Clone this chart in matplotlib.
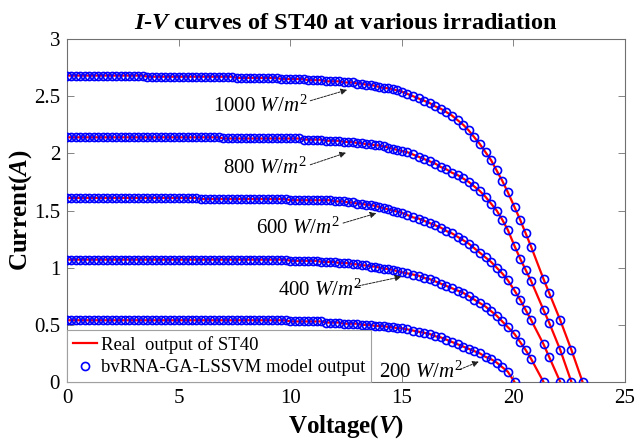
import matplotlib
matplotlib.use('Agg')
import matplotlib.pyplot as plt
from matplotlib.ticker import FuncFormatter

# ---------------- data ----------------
voltage = [
    0.0, 0.2, 0.4, 0.6, 0.8, 1.0, 1.2, 1.4, 1.6, 1.8,
    2.0, 2.2, 2.4, 2.6, 2.8, 3.0, 3.2, 3.4, 3.6, 3.8,
    4.0, 4.2, 4.4, 4.6, 4.8, 5.0, 5.2, 5.4, 5.6, 5.8,
    6.0, 6.2, 6.4, 6.6, 6.8, 7.0, 7.2, 7.4, 7.6, 7.8,
    8.0, 8.2, 8.4, 8.6, 8.8, 9.0, 9.2, 9.4, 9.6, 9.8,
    10.0, 10.2, 10.4, 10.6, 10.8, 11.0, 11.2, 11.4, 11.6, 11.8,
    12.0, 12.2, 12.4, 12.6, 12.8, 13.0, 13.2, 13.4, 13.6, 13.8,
    14.0, 14.2, 14.4, 14.6, 14.8, 15.0,
    15.25, 15.5, 15.75, 16.0, 16.25, 16.5, 16.75, 17.0, 17.25, 17.5,
    17.75, 18.0, 18.25, 18.5, 18.75, 19.0, 19.25, 19.5, 19.75,
    20.05, 20.3, 20.55, 20.8, 21.35, 21.6, 22.1, 22.6, 23.1,
]

current_1000 = [
    2.68, 2.68, 2.68, 2.68, 2.68, 2.68, 2.68, 2.68, 2.68, 2.68,
    2.68, 2.68, 2.68, 2.68, 2.68, 2.68, 2.68, 2.68, 2.67, 2.67,
    2.67, 2.67, 2.67, 2.67, 2.67, 2.67, 2.67, 2.67, 2.67, 2.67,
    2.67, 2.67, 2.67, 2.67, 2.67, 2.67, 2.67, 2.67, 2.66, 2.66,
    2.66, 2.66, 2.66, 2.66, 2.66, 2.66, 2.66, 2.66, 2.65, 2.65,
    2.65, 2.65, 2.65, 2.65, 2.64, 2.64, 2.64, 2.64, 2.63, 2.63,
    2.63, 2.63, 2.62, 2.62, 2.62, 2.61, 2.61, 2.60, 2.60, 2.59,
    2.58, 2.57, 2.57, 2.56, 2.55, 2.54,
    2.52, 2.50, 2.48, 2.46, 2.44, 2.41, 2.39, 2.36, 2.33, 2.29,
    2.25, 2.20, 2.14, 2.08, 2.01, 1.94, 1.85, 1.76, 1.66,
    1.53, 1.42, 1.30, 1.18, 0.90, 0.78, 0.54, 0.28, 0.00,
]

current_800 = [
    2.14, 2.14, 2.14, 2.14, 2.14, 2.14, 2.14, 2.14, 2.14, 2.14,
    2.14, 2.14, 2.14, 2.14, 2.14, 2.14, 2.14, 2.14, 2.14, 2.14,
    2.14, 2.14, 2.14, 2.14, 2.14, 2.14, 2.14, 2.14, 2.14, 2.14,
    2.14, 2.14, 2.14, 2.14, 2.14, 2.13, 2.13, 2.13, 2.13, 2.13,
    2.13, 2.13, 2.13, 2.13, 2.13, 2.13, 2.13, 2.13, 2.13, 2.13,
    2.13, 2.13, 2.13, 2.12, 2.12, 2.12, 2.12, 2.12, 2.11, 2.11,
    2.11, 2.11, 2.10, 2.10, 2.10, 2.09, 2.09, 2.08, 2.08, 2.07,
    2.07, 2.06, 2.05, 2.04, 2.03, 2.02,
    2.01, 1.99, 1.97, 1.95, 1.93, 1.91, 1.88, 1.86, 1.83, 1.81,
    1.78, 1.75, 1.71, 1.67, 1.62, 1.56, 1.50, 1.42, 1.33,
    1.19, 1.08, 0.98, 0.88, 0.63, 0.52, 0.28, 0.00,
]

current_600 = [
    1.61, 1.61, 1.61, 1.61, 1.61, 1.61, 1.61, 1.61, 1.61, 1.61,
    1.61, 1.61, 1.61, 1.61, 1.61, 1.61, 1.61, 1.61, 1.61, 1.61,
    1.61, 1.61, 1.61, 1.61, 1.61, 1.61, 1.61, 1.61, 1.61, 1.61,
    1.60, 1.60, 1.60, 1.60, 1.60, 1.60, 1.60, 1.60, 1.60, 1.60,
    1.60, 1.60, 1.60, 1.60, 1.60, 1.60, 1.60, 1.60, 1.60, 1.60,
    1.59, 1.59, 1.59, 1.59, 1.59, 1.59, 1.59, 1.59, 1.59, 1.59,
    1.58, 1.58, 1.58, 1.57, 1.57, 1.56, 1.56, 1.55, 1.55, 1.54,
    1.53, 1.52, 1.51, 1.50, 1.49, 1.48,
    1.46, 1.44, 1.43, 1.41, 1.39, 1.37, 1.35, 1.32, 1.30, 1.27,
    1.24, 1.21, 1.17, 1.13, 1.09, 1.05, 1.00, 0.95, 0.89,
    0.80, 0.72, 0.63, 0.54, 0.33, 0.22, 0.00,
]

current_400 = [
    1.07, 1.07, 1.07, 1.07, 1.07, 1.07, 1.07, 1.07, 1.07, 1.07,
    1.07, 1.07, 1.07, 1.07, 1.07, 1.07, 1.07, 1.07, 1.07, 1.07,
    1.07, 1.07, 1.07, 1.07, 1.07, 1.07, 1.07, 1.07, 1.07, 1.07,
    1.07, 1.07, 1.07, 1.07, 1.07, 1.07, 1.07, 1.07, 1.07, 1.07,
    1.07, 1.07, 1.07, 1.07, 1.07, 1.07, 1.07, 1.07, 1.07, 1.07,
    1.06, 1.06, 1.06, 1.06, 1.06, 1.06, 1.06, 1.05, 1.05, 1.05,
    1.05, 1.04, 1.04, 1.04, 1.03, 1.03, 1.02, 1.02, 1.01, 1.01,
    1.00, 0.99, 0.99, 0.98, 0.97, 0.96,
    0.95, 0.94, 0.93, 0.91, 0.90, 0.88, 0.86, 0.84, 0.82, 0.80,
    0.78, 0.75, 0.72, 0.69, 0.66, 0.62, 0.58, 0.53, 0.48,
    0.42, 0.35, 0.28, 0.20, 0.00,
]

current_200 = [
    0.54, 0.54, 0.54, 0.54, 0.54, 0.54, 0.54, 0.54, 0.54, 0.54,
    0.54, 0.54, 0.54, 0.54, 0.54, 0.54, 0.54, 0.54, 0.54, 0.54,
    0.54, 0.54, 0.54, 0.54, 0.54, 0.54, 0.54, 0.54, 0.54, 0.54,
    0.54, 0.54, 0.54, 0.54, 0.54, 0.54, 0.54, 0.54, 0.54, 0.54,
    0.54, 0.54, 0.54, 0.54, 0.54, 0.54, 0.54, 0.54, 0.54, 0.54,
    0.53, 0.53, 0.53, 0.53, 0.53, 0.53, 0.53, 0.53, 0.52, 0.52,
    0.52, 0.52, 0.51, 0.51, 0.51, 0.51, 0.50, 0.50, 0.50, 0.49,
    0.49, 0.49, 0.48, 0.48, 0.47, 0.47,
    0.46, 0.45, 0.44, 0.43, 0.42, 0.40, 0.39, 0.37, 0.35, 0.33,
    0.31, 0.29, 0.27, 0.25, 0.22, 0.20, 0.17, 0.13, 0.09,
    0.00,
]

curves = [current_1000, current_800, current_600, current_400, current_200]
irradiance_labels = ['1000', '800', '600', '400', '200']
legend_labels = ['Real  output of ST40', 'bvRNA-GA-LSSVM model output']
x_ticks = [0, 5, 10, 15, 20, 25]
y_ticks = [0, 0.5, 1, 1.5, 2, 2.5, 3]

# ---------------- style ----------------
plt.rcParams['font.family'] = ['Liberation Serif', 'DejaVu Serif']
plt.rcParams['mathtext.fontset'] = 'custom'
plt.rcParams['mathtext.rm'] = 'Liberation Serif'
plt.rcParams['mathtext.it'] = 'Liberation Serif:italic'
plt.rcParams['mathtext.bf'] = 'Liberation Serif:bold:italic'

fig = plt.figure(figsize=(6.36, 4.43), dpi=100)
ax = fig.add_axes([67 / 636, 1 - 382 / 443, (625 - 67) / 636, (382 - 39) / 443])

line_h = marker_h = None
for cur in curves:
    v = voltage[:len(cur)]
    ln, = ax.plot(v, cur, '-', color='red', lw=1.6, zorder=2)
    mk, = ax.plot(v, cur, 'o', mfc='none', mec='blue', ms=5.8, mew=1.2, zorder=3)
    line_h, marker_h = line_h or ln, marker_h or mk

ax.set_xlim(0, 25)
ax.set_ylim(0, 3)
ax.set_xticks(x_ticks)
ax.set_yticks(y_ticks)
ax.yaxis.set_major_formatter(FuncFormatter(lambda y, _: f'{y:g}'))
ax.tick_params(direction='in', top=True, right=True, labelsize=15, length=5,
               width=0.6, color='#707070', pad=5)
for s in ax.spines.values():
    s.set_color('#707070')
    s.set_linewidth(0.8)

ax.set_xlabel(r'Voltage($\mathbf{V}$)', fontsize=18, fontweight='bold', labelpad=4)
ax.set_ylabel(r'Current($\mathbf{A}$)', fontsize=18, fontweight='bold', labelpad=0)
ax.set_title(r'$\mathbf{I}$-$\mathbf{V}$ curves of ST40 at various irradiation',
             fontsize=17.5, fontweight='bold', pad=7)

# annotations: (text x, text y, arrow tail, arrow head)
ann = [
    (6.55, 2.415, (10.9, 2.46), (12.55, 2.555)),
    (7.0, 1.87, (10.9, 1.90), (12.5, 2.005)),
    (8.46, 1.345, (12.37, 1.39), (13.86, 1.476)),
    (9.46, 0.805, (12.9, 0.834), (14.98, 0.921)),
    (13.98, 0.09, (17.6, 0.11), (18.45, 0.178)),
]
for lab, (tx, ty, tail, head) in zip(irradiance_labels, ann):
    ax.text(tx, ty, lab + r' $W/m^2$', fontsize=15, ha='left', va='center', zorder=4)
    ax.annotate('', xy=head, xytext=tail,
                arrowprops=dict(arrowstyle='-|>', color='#222222', lw=0.7,
                                linestyle=(0, (2.5, 1.2)), mutation_scale=9,
                                shrinkA=0, shrinkB=0))

leg = ax.legend([line_h, marker_h], legend_labels, loc='lower left', fontsize=13.5,
                borderaxespad=0, fancybox=False, edgecolor='#a0a0a0', framealpha=1,
                handlelength=1.3, handletextpad=0.2, borderpad=0.3,
                labelspacing=0.3, numpoints=1)
leg.get_frame().set_linewidth(0.8)

fig.savefig('out.png', dpi=100)
